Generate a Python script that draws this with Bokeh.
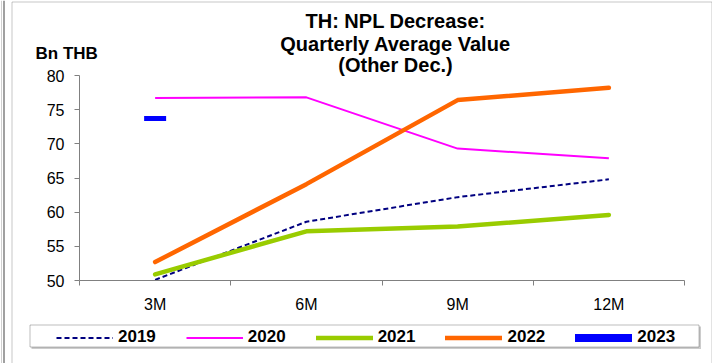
from bokeh.plotting import figure
from bokeh.models import Range1d, FixedTicker, Label, Legend, LegendItem, BoxAnnotation, Span
from bokeh.embed import file_html
from bokeh.resources import INLINE

periods = ["3M", "6M", "9M", "12M"]
y2019 = [50.1, 58.6, 62.2, 64.8]
y2020 = [76.7, 76.8, 69.3, 67.9]
y2021 = [50.9, 57.2, 57.9, 59.6]
y2022 = [52.7, 64.1, 76.4, 78.2]
y2023 = [73.7]
y_ticks = [50, 55, 60, 65, 70, 75, 80]
title_lines = ["TH: NPL Decrease:", "Quarterly Average Value", "(Other Dec.)"]
unit_label = "Bn THB"

FONT = "Liberation Sans"
W, H = 712, 363
# plot-area placement in pixels (layout only)
AX_L, AX_R, AX_T, AX_B = 79.0, 684.0, 75.0, 280.0
YMIN, YMAX = 50.0, 80.0
n = len(periods)
sx = (AX_R - AX_L) / n
sy = (AX_B - AX_T) / (YMAX - YMIN)

def px_x(px):
    return (px - AX_L) / sx

def px_y(py):
    return YMAX + (AX_T - py) / sy

x = [i + 0.5 for i in range(n)]
bounds = [float(i) for i in range(n + 1)]

p = figure(width=W, height=H, output_backend="svg", toolbar_location=None,
           x_range=Range1d(px_x(0), px_x(W)), y_range=Range1d(px_y(H), px_y(0)),
           min_border_left=0, min_border_right=0, min_border_top=0, min_border_bottom=0)
p.xgrid.visible = False
p.ygrid.visible = False
p.outline_line_color = None
p.background_fill_color = "white"
p.border_fill_color = "white"

# chart-area border and page edge lines
p.add_layout(BoxAnnotation(left=px_x(11.5), right=px_x(711.5), top=px_y(1.5), bottom=px_y(H + 5),
                           fill_color=None, line_color="#444444", line_width=1))
p.add_layout(Span(location=px_x(1), dimension="height", line_color="#d0d0d0", line_width=1))
p.add_layout(Span(location=px_x(3.5), dimension="height", line_color="#a0a0a0", line_width=2))

# x axis
p.xaxis.fixed_location = YMIN
p.xaxis.bounds = (0, n)
p.xaxis.ticker = FixedTicker(ticks=x, minor_ticks=bounds)
p.xaxis.major_label_overrides = {xi: lab for xi, lab in zip(x, periods)}
p.xaxis.major_tick_out = 0
p.xaxis.major_tick_in = 0
p.xaxis.minor_tick_out = 5
p.xaxis.minor_tick_in = 0
p.xaxis.minor_tick_line_color = "#808080"
p.xaxis.axis_line_color = "#808080"
p.xaxis.major_label_standoff = 10
p.xaxis.major_label_text_font = FONT
p.xaxis.major_label_text_font_size = "16px"
p.xaxis.major_label_text_color = "black"

# y axis
p.yaxis.fixed_location = 0
p.yaxis.bounds = (YMIN, YMAX)
p.yaxis.ticker = FixedTicker(ticks=y_ticks)
p.yaxis.major_tick_out = 5
p.yaxis.major_tick_in = 0
p.yaxis.minor_tick_line_color = None
p.yaxis.major_tick_line_color = "#808080"
p.yaxis.axis_line_color = "#808080"
p.yaxis.major_label_standoff = 10
p.yaxis.major_label_text_font = FONT
p.yaxis.major_label_text_font_size = "16px"
p.yaxis.major_label_text_color = "black"

r19 = p.line(x, y2019, line_color="#000080", line_width=2, line_dash="5 3")
r20 = p.line(x, y2020, line_color="#FF00FF", line_width=2)
r21 = p.line(x, y2021, line_color="#99CC00", line_width=4.5, line_cap="round", line_join="round")
r22 = p.line(x, y2022, line_color="#FF6600", line_width=4.5, line_cap="round", line_join="round")
r23 = p.line(x[:len(y2023)], y2023, line_color="#0000FF", line_width=8, line_cap="round")
p.scatter(x[:len(y2023)], y2023, marker="dash", size=22, line_color="#0000FF", line_width=5)

# legend box (shadow + frame) drawn separately, legend items on top
p.add_layout(BoxAnnotation(left=px_x(31), right=px_x(700.5), top=px_y(326), bottom=px_y(348.5),
                           fill_color="#808080", line_color=None))
p.add_layout(BoxAnnotation(left=px_x(29.5), right=px_x(698.5), top=px_y(324.5), bottom=px_y(346.5),
                           fill_color="white", fill_alpha=1, line_color="#222222", line_width=1))

legend = Legend(items=[
    LegendItem(label="2019", renderers=[r19]),
    LegendItem(label="2020", renderers=[r20]),
    LegendItem(label="2021", renderers=[r21]),
    LegendItem(label="2022", renderers=[r22]),
    LegendItem(label="2023", renderers=[r23]),
], orientation="horizontal", location=(56, 16))
legend.label_text_font = FONT
legend.label_text_font_size = "17px"
legend.label_text_font_style = "bold"
legend.label_text_color = "black"
legend.glyph_width = 57
legend.glyph_height = 17
legend.label_height = 17
legend.label_standoff = 5
legend.spacing = 30
legend.padding = 3
legend.margin = 0
legend.border_line_color = None
legend.background_fill_alpha = 0
p.add_layout(legend, "center")

for t, py in zip(title_lines, [20, 43, 64]):
    p.add_layout(Label(x=px_x(395), y=px_y(py), text=t, text_align="center", text_baseline="middle",
                       text_font=FONT, text_font_size="20px", text_font_style="bold",
                       text_color="black"))
p.add_layout(Label(x=px_x(35), y=px_y(53), text=unit_label, text_align="left", text_baseline="middle",
                   text_font=FONT, text_font_size="17px", text_font_style="bold",
                   text_color="black"))

open("out.html", "w").write(file_html(p, INLINE))
